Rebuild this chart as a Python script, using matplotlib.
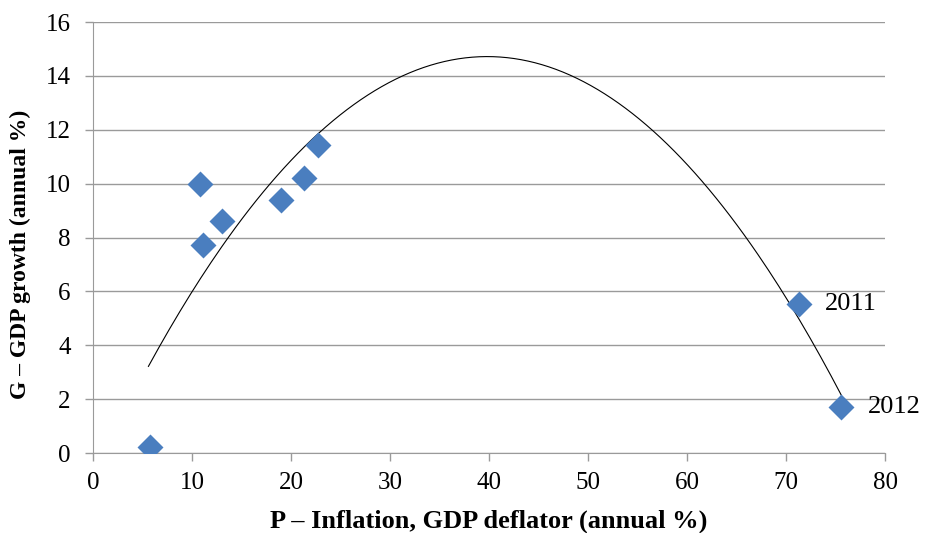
import numpy as np
import matplotlib.pyplot as plt

plt.rcParams['font.family'] = ['Liberation Serif', 'DejaVu Serif']

# inflation (x) and growth (y)
inflation = [5.8, 10.8, 11.1, 13.0, 19.0, 21.3, 22.7, 71.3, 75.6]
growth = [0.22, 9.97, 7.73, 8.6, 9.4, 10.2, 11.45, 5.55, 1.72]
point_labels = ["", "", "", "", "", "", "", "2011", "2012"]

xticks = [0, 10, 20, 30, 40, 50, 60, 70, 80]
yticks = [0, 2, 4, 6, 8, 10, 12, 14, 16]

fig = plt.figure(figsize=(9.27, 5.33), dpi=100)
ax = fig.add_axes([0.1003, 0.150, 0.8544, 0.8087])

# quadratic trend line (like excel's polynomial trendline)
coef = np.polyfit(inflation, growth, 2)
xx = np.linspace(min(inflation) - 0.2, max(inflation), 200)
ax.plot(xx, np.polyval(coef, xx), color="black", lw=0.8, zorder=3)

ax.scatter(inflation, growth, marker="D", s=175, color="#4A7EBF", zorder=4, linewidths=0)

for x, y, t in zip(inflation, growth, point_labels):
    if t:
        ax.annotate(t, (x, y), xytext=(19, 0), textcoords="offset points",
                    va="center", ha="left", fontsize=19)

ax.set_xlim(0, 80)
ax.set_ylim(0, 16)
ax.set_xticks(xticks)
ax.set_yticks(yticks)
ax.grid(axis="y", color="#9a9a9a", lw=1)
ax.set_axisbelow(True)
for s in ["top", "right"]:
    ax.spines[s].set_visible(False)
for s in ["left", "bottom"]:
    ax.spines[s].set_color("#9a9a9a")
ax.tick_params(colors="#9a9a9a", labelcolor="black", labelsize=18, length=6, width=1)
ax.tick_params(axis="x", pad=8)
ax.tick_params(axis="y", pad=10)

ax.set_xlabel("P – Inflation, GDP deflator (annual %)", fontsize=19, fontweight="bold", labelpad=11)
ax.set_ylabel("G – GDP growth (annual %)", fontsize=17, fontweight="bold")
# excel put the y title a bit below centre
ax.yaxis.set_label_coords(-0.078, 0.46)

fig.savefig("out.png", dpi=100)
